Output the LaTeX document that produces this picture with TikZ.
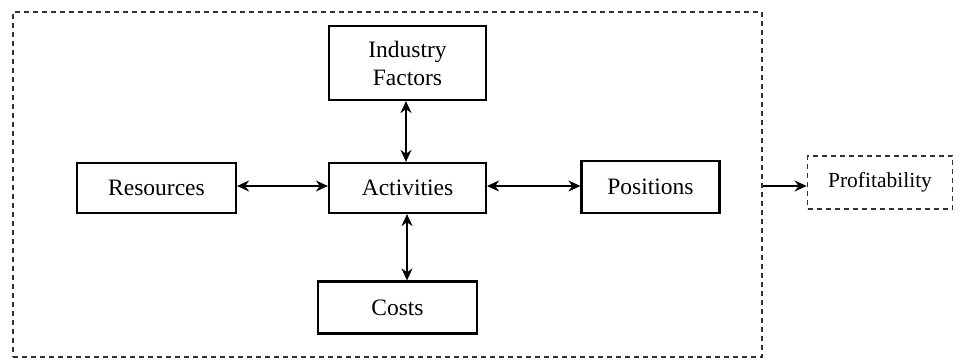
\documentclass[tikz,border=0pt]{standalone}
\usepackage{fontspec}
\setmainfont{Liberation Serif}
\usetikzlibrary{arrows.meta}
\begin{document}
\begin{tikzpicture}[x=1pt,y=-1pt,
  box/.style={draw=black, line width=2.2pt, minimum width=#1, inner sep=0pt, font=\fontsize{23.5}{28}\selectfont, align=center},
  dashbox/.style={draw=black!80, line width=1.8pt, dash pattern=on 5pt off 4pt, inner sep=0pt},
  link/.style={line width=1.5pt, {Stealth[length=12pt,width=11pt]}-{Stealth[length=12pt,width=11pt]}},
  feed/.style={line width=1.5pt, -{Stealth[length=12pt,width=11pt]}}]
\useasboundingbox (0,0) rectangle (955,363);
% boundary of the firm
\node[dashbox, minimum width=749pt, minimum height=345pt] (firm) at (387.5,184.5) {};
% elements inside
\node[box=157pt, minimum height=74pt] (ind) at (407.5,63) {Industry\\Factors};
\node[box=159pt, minimum height=50pt] (res) at (156.5,188) {Resources};
\node[box=157pt, minimum height=50pt] (act) at (407.5,188) {Activities};
\node[box=138pt, minimum height=52pt] (pos) at (650.5,187) {Positions};
\node[box=159pt, minimum height=52pt] (cst) at (397.5,307.5) {Costs};
% outcome
\node[dashbox, minimum width=145pt, minimum height=53pt, font=\fontsize{21.5}{24}\selectfont] (prof) at (880,182.5) {Profitability};
% links
\draw[link] (res.east |- 0,186) -- (act.west |- 0,186);
\draw[link] (act.east |- 0,186) -- (pos.west |- 0,186);
\draw[link] (ind.south -| 406,0) -- (act.north -| 406,0);
\draw[link] (act.south -| 407,0) -- (cst.north -| 407,0);
\draw[feed] (firm.east |- 0,186) -- (prof.west |- 0,186);
\end{tikzpicture}
\end{document}
